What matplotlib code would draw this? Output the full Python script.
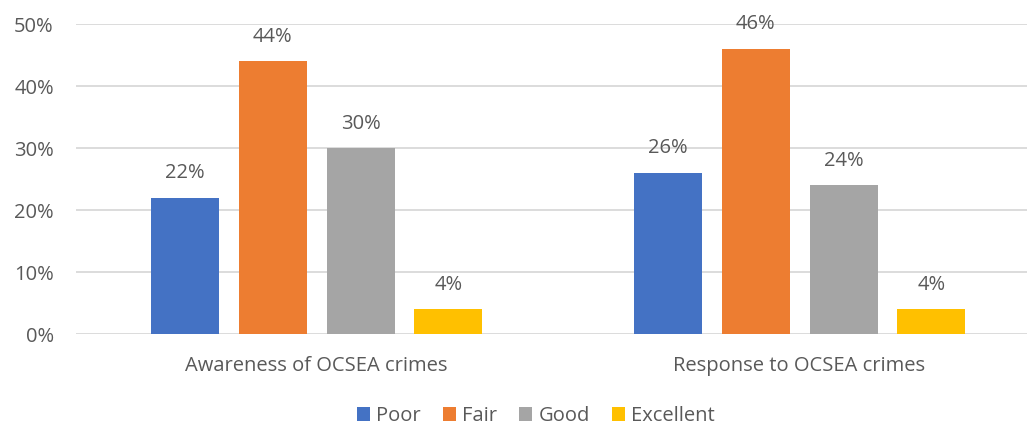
import matplotlib
matplotlib.use("Agg")
import matplotlib.pyplot as plt
import numpy as np

categories = ["Awareness of OCSEA crimes", "Response to OCSEA crimes"]
series_names = ["Poor", "Fair", "Good", "Excellent"]
poor = [0.22, 0.26]
fair = [0.44, 0.46]
good = [0.30, 0.24]
excellent = [0.04, 0.04]
colors = ["#4472C4", "#ED7D31", "#A5A5A5", "#FFC000"]
yticks = [0, 0.1, 0.2, 0.3, 0.4, 0.5]
ytick_labels = ["0%", "10%", "20%", "30%", "40%", "50%"]

plt.rcParams['font.family'] = ['Open Sans', 'DejaVu Sans']
txt = "#595959"
fs = 14.5

W, H = 1027, 425
fig = plt.figure(figsize=(W / 100, H / 100), dpi=100)
ax = fig.add_axes([76 / W, 1 - 334 / H, (W - 76) / W, (334 - 24) / H])

x = np.arange(len(categories))
width = 0.1408
offsets = [-0.273, -0.0911, 0.0911, 0.273]
all_vals = [poor, fair, good, excellent]
for name, vals, off, c in zip(series_names, all_vals, offsets, colors):
    bars = ax.bar(x + off, vals, width, color=c, label=name, zorder=3)
    for b, v in zip(bars, vals):
        ax.annotate(f"{round(v*100)}%", (b.get_x() + b.get_width() / 2, v),
                    xytext=(0, 17.5), textcoords="offset points", ha="center", va="center",
                    fontsize=fs, color=txt)

ax.set_xlim(-0.498, 1.471)
ax.set_ylim(0, 0.5)
ax.set_yticks(yticks)
ax.set_yticklabels(ytick_labels)
ax.set_xticks(x)
ax.set_xticklabels(categories)
ax.tick_params(axis="both", length=0, labelsize=fs, colors=txt)
ax.tick_params(axis="y", pad=16)
ax.tick_params(axis="x", pad=16)
ax.yaxis.grid(True, color="#D9D9D9", linewidth=1.3, zorder=0)
for s in ax.spines.values():
    s.set_visible(False)

fig.legend(loc="center", bbox_to_anchor=(536 / W, 1 - 416 / H), ncol=4, frameon=False,
           fontsize=fs, labelcolor=txt, handlelength=0.65, handleheight=0.65,
           handletextpad=0.3, columnspacing=1.1)

fig.savefig("out.png", dpi=100)
